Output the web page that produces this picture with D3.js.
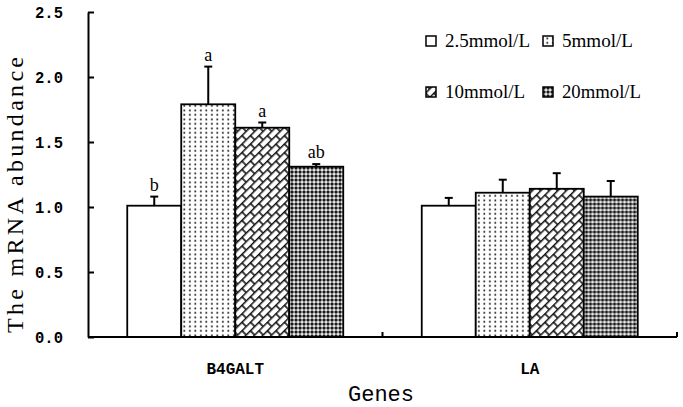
<!DOCTYPE html>
<html>
<head>
<meta charset="utf-8">
<script src="https://cdn.jsdelivr.net/npm/d3@7"></script>
<style>
html,body{margin:0;padding:0;background:#fff;}
svg{display:block;}
</style>
</head>
<body>
<svg id="chart" width="683" height="407"></svg>
<script>
const genes = ["B4GALT", "LA"];
const series = ["2.5mmol/L", "5mmol/L", "10mmol/L", "20mmol/L"];
const means = [
  [1.01, 1.79, 1.61, 1.31],
  [1.01, 1.11, 1.14, 1.08]
];
const errors = [
  [0.07, 0.29, 0.04, 0.02],
  [0.06, 0.10, 0.12, 0.12]
];
const sigLabels = [
  ["b", "a", "a", "ab"],
  ["", "", "", ""]
];
const yTicks = [0, 0.5, 1.0, 1.5, 2.0, 2.5];

const svg = d3.select("#chart");
const mLeft = 88, mRight = 677, mTop = 12, mBottom = 337;

// patterns
const defs = svg.append("defs");
const pDots = defs.append("pattern").attr("id","p1").attr("patternUnits","userSpaceOnUse")
  .attr("width",5.5).attr("height",4.5);
pDots.append("rect").attr("width",5.5).attr("height",4.5).attr("fill","#fff");
pDots.append("rect").attr("x",2).attr("y",1.5).attr("width",1.7).attr("height",1.7).attr("fill","#111");

const pBrick = defs.append("pattern").attr("id","p2").attr("patternUnits","userSpaceOnUse")
  .attr("width",12).attr("height",12).attr("patternTransform","rotate(-45)");
pBrick.append("rect").attr("width",12).attr("height",12).attr("fill","#fff");
pBrick.append("path").attr("d","M0,0.8H12M0,6.8H12M1,0V6M7,6V12")
  .attr("stroke","#111").attr("stroke-width",1.6).attr("fill","none");

const pCheck = defs.append("pattern").attr("id","p3").attr("patternUnits","userSpaceOnUse")
  .attr("width",4).attr("height",4);
pCheck.append("rect").attr("width",4).attr("height",4).attr("fill","#1a1a1a");
pCheck.append("rect").attr("x",1.4).attr("y",0.3).attr("width",1.3).attr("height",3.4).attr("fill","#fff");
pCheck.append("rect").attr("x",0.3).attr("y",1.4).attr("width",3.4).attr("height",1.3).attr("fill","#fff");

const fills = ["#fff", "url(#p1)", "url(#p2)", "url(#p3)"];

const x0 = d3.scaleBand().domain(genes).range([mLeft, mRight]).padding(0);
const groupW = 216;
const x1 = d3.scaleBand().domain(series)
  .range([(x0.bandwidth()-groupW)/2, (x0.bandwidth()+groupW)/2]).padding(0);
const y = d3.scaleLinear().domain([0, 2.5]).range([mBottom, mTop]);

// bars
const groups = svg.append("g").selectAll("g").data(genes).join("g")
  .attr("transform", d => `translate(${x0(d)},0)`);

groups.each(function(g, gi) {
  const sel = d3.select(this);
  series.forEach((s, si) => {
    const v = means[gi][si], e = errors[gi][si];
    const cx = x1(s) + x1.bandwidth()/2;
    sel.append("line").attr("x1",cx).attr("x2",cx).attr("y1",y(v)).attr("y2",y(v+e))
      .attr("stroke","#000").attr("stroke-width",2);
    sel.append("line").attr("x1",cx-4).attr("x2",cx+4).attr("y1",y(v+e)).attr("y2",y(v+e))
      .attr("stroke","#000").attr("stroke-width",2);
    sel.append("rect").attr("x",x1(s)).attr("y",y(v)).attr("width",x1.bandwidth())
      .attr("height",y(0)-y(v)).attr("fill",fills[si]).attr("stroke","#000").attr("stroke-width",1.8);
    if (sigLabels[gi][si]) {
      sel.append("text").attr("x",cx).attr("y",y(v+e)-6).attr("text-anchor","middle")
        .attr("font-family","Liberation Serif, serif").attr("font-size",18)
        .text(sigLabels[gi][si]);
    }
  });
});

// y axis
const yAxis = d3.axisLeft(y).tickValues(yTicks).tickFormat(d3.format(".1f"))
  .tickSizeInner(-6).tickSizeOuter(0).tickPadding(25);
const yg = svg.append("g").attr("transform",`translate(${mLeft},0)`).call(yAxis);
yg.select(".domain").attr("stroke","#000").attr("stroke-width",2);
yg.selectAll(".tick line").attr("stroke","#000").attr("stroke-width",2);
yg.selectAll(".tick text").attr("font-family","Liberation Mono, monospace")
  .attr("font-weight","bold").attr("font-size",16).attr("fill","#000")
  .attr("textLength",28).attr("lengthAdjust","spacingAndGlyphs");

// x axis
svg.append("line").attr("x1",mLeft).attr("x2",mRight).attr("y1",mBottom).attr("y2",mBottom)
  .attr("stroke","#000").attr("stroke-width",2);
svg.append("g").selectAll("line").data(genes).join("line")
  .attr("x1", d => x0(d)+x0.bandwidth()).attr("x2", d => x0(d)+x0.bandwidth())
  .attr("y1", mBottom).attr("y2", mBottom-5).attr("stroke","#000").attr("stroke-width",2);
svg.append("g").selectAll("text").data(genes).join("text")
  .attr("x", d => x0(d)+x0.bandwidth()/2).attr("y", 374).attr("text-anchor","middle")
  .attr("font-family","Liberation Mono, monospace").attr("font-weight","bold").attr("font-size",16)
  .text(d => d);

// axis titles
svg.append("text").attr("x",381).attr("y",401).attr("text-anchor","middle")
  .attr("font-family","Liberation Mono, monospace").attr("font-size",22).text("Genes");
svg.append("text").attr("transform","translate(23,195) rotate(-90)").attr("text-anchor","middle")
  .attr("font-family","Liberation Serif, serif").attr("font-size",24)
  .attr("textLength",276).attr("lengthAdjust","spacing").text("The mRNA abundance");

// legend
const legPos = [[426,41],[543,41],[426,92],[543,92]];
const legW = [85,71,80,79];
const leg = svg.append("g");
series.forEach((s, i) => {
  const [lx, ly] = legPos[i];
  leg.append("rect").attr("x",lx).attr("y",ly-5).attr("width",10).attr("height",10)
    .attr("fill",fills[i]).attr("stroke","#000").attr("stroke-width",1.5);
  leg.append("text").attr("x",lx+19).attr("y",ly+6)
    .attr("font-family","Liberation Serif, serif").attr("font-size",18)
    .attr("textLength",legW[i]).attr("lengthAdjust","spacingAndGlyphs").text(s);
});
</script>
</body>
</html>
